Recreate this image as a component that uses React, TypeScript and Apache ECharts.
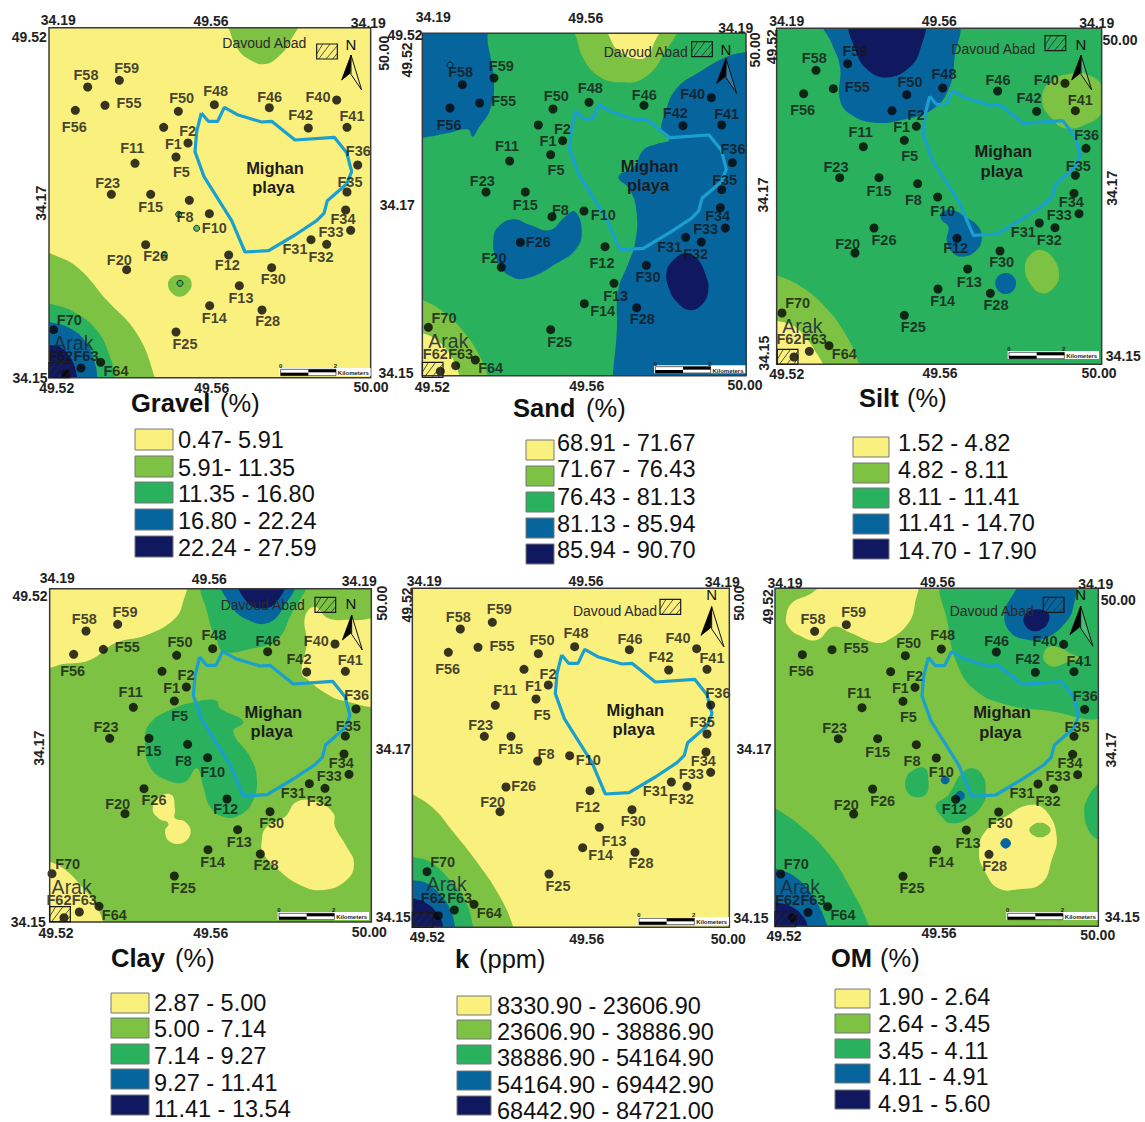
import React, { useEffect, useRef } from "react";
import * as echarts from "echarts";

const COLORS = ["#FAF07E", "#7DC242", "#2AB15D", "#07659E", "#10195F"];
const FONT = '"Liberation Sans", Arial, sans-serif';

type Pt = [number, number];
type Zone = { c: number; p: Pt[] };

// name, dot x, dot y, label x, label y (map units)
const sites: [string, number, number, number, number][] = [
  ["F58", 263, 261, 258, 224], ["F59", 358, 241, 380, 204], ["F55", 315, 316, 387, 310], ["F56", 226, 331, 223, 381],
  ["F50", 535, 334, 545, 295], ["F48", 643, 314, 647, 272], ["F46", 808, 323, 809, 291], ["F40", 1010, 300, 954, 290],
  ["F42", 925, 384, 902, 345], ["F41", 1041, 382, 1056, 349], ["F2", 491, 382, 563, 394], ["F1", 564, 429, 520, 431],
  ["F5", 528, 471, 544, 517], ["F11", 405, 490, 397, 445], ["F23", 334, 583, 323, 550], ["F15", 452, 583, 452, 622],
  ["F8", 568, 601, 555, 651], ["F10", 628, 641, 643, 684], ["F36", 1073, 495, 1075, 454], ["F35", 1041, 576, 1050, 547],
  ["F34", 1037, 630, 1029, 656], ["F33", 1052, 691, 993, 695], ["F32", 980, 733, 963, 770], ["F31", 933, 719, 885, 747],
  ["F30", 815, 803, 820, 837], ["F28", 786, 930, 803, 964], ["F13", 718, 857, 723, 895], ["F14", 629, 917, 643, 953],
  ["F12", 686, 765, 682, 794], ["F26", 437, 734, 467, 769], ["F20", 380, 809, 358, 781], ["F25", 528, 996, 555, 1032],
  ["F70", 161, 989, 208, 960], ["F64", 302, 1087, 348, 1112], ["F63", 243, 1104, 258, 1068], ["F62", 197, 1121, 182, 1068],
];

const sandSites: Record<string, number[]> = {
  F8: [516, 650, 541, 630], F10: [612, 633, 670, 646], F12: [675, 740, 666, 790],
  F14: [613, 911, 668, 932], F26: [421, 727, 475, 725],
};

const kSites: Record<string, number[]> = {
  F58: [241, 207, 235, 170], F59: [337, 187, 358, 148], F55: [294, 262, 366, 257], F56: [205, 277, 203, 327],
  F50: [475, 281, 486, 241], F48: [584, 260, 588, 218], F46: [748, 269, 750, 237], F40: [950, 266, 894, 235],
  F42: [866, 330, 843, 291], F41: [981, 328, 996, 295], F2: [432, 328, 504, 342], F1: [505, 375, 460, 378],
  F5: [468, 417, 486, 464], F11: [346, 436, 376, 391], F23: [313, 529, 302, 496], F15: [393, 529, 392, 568],
  F8: [473, 603, 498, 582], F10: [569, 587, 625, 599], F36: [992, 435, 1014, 400], F35: [981, 522, 967, 487],
  F34: [978, 576, 970, 603], F33: [992, 637, 934, 641], F32: [921, 679, 904, 716], F31: [874, 666, 826, 693],
  F30: [756, 749, 760, 783], F28: [765, 877, 783, 910], F13: [658, 802, 702, 842], F14: [608, 863, 662, 885],
  F12: [630, 692, 623, 742], F26: [378, 681, 431, 677], F20: [360, 755, 338, 727], F25: [507, 942, 534, 978],
  F70: [141, 935, 188, 907], F64: [282, 1033, 328, 1058], F63: [223, 1050, 239, 1015], F62: [175, 1067, 160, 1015],
};

const playa: Pt[] = [
  [604, 339], [625, 364], [653, 364], [673, 322], [712, 344], [745, 354], [785, 366], [815, 364], [885, 420],
  [1003, 412], [1040, 458], [1055, 515], [1040, 552], [982, 602], [972, 640], [950, 662], [885, 705], [806, 752],
  [735, 756], [695, 662], [612, 530], [585, 455], [590, 395], [604, 339],
];

const gravelZones: Zone[] = [
  { c: 1, p: [[680, 50], [690, 95], [715, 150], [755, 182], [795, 192], [835, 170], [870, 125], [895, 50]] },
  { c: 1, p: [[120, 745], [147, 758], [230, 800], [320, 900], [410, 1000], [465, 1135], [465, 1175], [120, 1175]] },
  { c: 2, p: [[120, 903], [147, 910], [220, 935], [290, 990], [330, 1070], [345, 1135], [345, 1175], [120, 1175]] },
  { c: 3, p: [[120, 958], [147, 965], [210, 985], [260, 1030], [285, 1090], [292, 1135], [292, 1175], [120, 1175]] },
  { c: 4, p: [[120, 1030], [147, 1035], [180, 1040], [215, 1080], [232, 1135], [232, 1175], [120, 1175]] },
  { c: 1, p: [[504, 852], [515, 832], [540, 825], [565, 832], [575, 852], [565, 876], [540, 890], [515, 878]] },
];

const sandZones: Zone[] = [
  { c: 3, p: [[100, 70], [305, 70], [325, 140], [342, 250], [330, 330], [295, 385], [278, 410], [263, 388], [200, 400], [130, 413], [100, 413]] },
  { c: 1, p: [[580, 70], [590, 115], [610, 175], [655, 228], [720, 247], [790, 235], [850, 165], [885, 70]] },
  { c: 0, p: [[685, 70], [695, 125], [720, 155], [760, 175], [800, 170], [822, 130], [840, 70]] },
  { c: 1, p: [[95, 890], [127, 900], [190, 935], [255, 1000], [305, 1080], [325, 1135], [325, 1160], [95, 1160]] },
  { c: 0, p: [[95, 995], [127, 1000], [170, 1020], [215, 1070], [240, 1135], [240, 1160], [95, 1160]] },
  { c: 3, p: [[1125, 150], [1098, 155], [1040, 170], [960, 215], [890, 265], [855, 340], [845, 395], [868, 420], [830, 432], [790, 450], [762, 500], [715, 530], [750, 570], [770, 640], [765, 730], [745, 790], [715, 870], [710, 1000], [698, 1135], [698, 1160], [1125, 1160]] },
  { c: 4, p: [[860, 815], [880, 780], [915, 760], [950, 775], [975, 820], [985, 870], [965, 915], [930, 930], [890, 905], [865, 860]] },
  { c: 3, p: [[340, 720], [355, 680], [400, 658], [450, 675], [510, 690], [555, 650], [585, 635], [605, 690], [590, 745], [530, 790], [440, 835], [385, 825], [350, 780]] },
];

const siltZones: Zone[] = [
  { c: 3, p: [[235, 60], [260, 130], [285, 200], [285, 300], [320, 345], [390, 368], [470, 360], [560, 330], [610, 270], [628, 180], [628, 60]] },
  { c: 4, p: [[322, 60], [335, 160], [375, 215], [430, 232], [490, 205], [525, 150], [530, 60]] },
  { c: 1, p: [[892, 305], [910, 250], [970, 222], [1030, 225], [1075, 265], [1075, 330], [1030, 370], [960, 385], [920, 355]] },
  { c: 3, p: [[588, 640], [620, 630], [660, 650], [700, 680], [710, 720], [690, 755], [650, 770], [620, 755], [605, 720], [610, 680], [590, 660]] },
  { c: 3, p: [[751, 850], [760, 828], [782, 819], [804, 828], [813, 850], [804, 872], [782, 882], [760, 872]] },
  { c: 1, p: [[840, 800], [860, 760], [890, 750], [925, 775], [942, 825], [925, 865], [890, 880], [855, 850]] },
  { c: 1, p: [[70, 815], [95, 825], [160, 855], [230, 910], [300, 1000], [345, 1100], [345, 1125], [70, 1125]] },
  { c: 0, p: [[70, 955], [95, 962], [140, 975], [180, 1010], [215, 1060], [236, 1100], [236, 1125], [70, 1125]] },
];

const clayZones: Zone[] = [
  { c: 0, p: [[120, 60], [550, 60], [548, 130], [520, 180], [440, 225], [345, 250], [270, 300], [190, 312], [120, 318]] },
  { c: 2, p: [[615, 60], [625, 170], [650, 240], [672, 275], [760, 265], [830, 240], [870, 170], [910, 60]] },
  { c: 3, p: [[668, 60], [695, 140], [745, 180], [800, 190], [845, 150], [880, 60]] },
  { c: 4, p: [[718, 60], [740, 125], [785, 145], [830, 125], [852, 60]] },
  { c: 0, p: [[915, 170], [945, 140], [985, 175], [1060, 180], [1140, 190], [1140, 425], [1030, 422], [970, 395], [925, 360], [905, 340], [920, 250]] },
  { c: 2, p: [[435, 540], [450, 490], [510, 450], [590, 425], [650, 422], [660, 445], [730, 485], [700, 515], [750, 590], [770, 650], [760, 720], [720, 765], [670, 770], [630, 740], [610, 680], [590, 625], [555, 665], [500, 660], [450, 620]] },
  { c: 0, p: [[458, 745], [480, 710], [515, 705], [525, 750], [525, 775], [555, 785], [572, 815], [550, 848], [510, 845], [495, 815], [505, 790], [475, 775]] },
  { c: 0, p: [[785, 845], [800, 800], [855, 770], [890, 725], [950, 725], [1000, 760], [1005, 800], [1040, 860], [1062, 910], [1040, 960], [970, 990], [900, 975], [830, 925], [790, 880]] },
  { c: 0, p: [[120, 900], [149, 905], [190, 925], [250, 985], [290, 1040], [312, 1095], [312, 1120], [120, 1120]] },
];

const kZones: Zone[] = [
  { c: 1, p: [[70, 690], [97, 702], [160, 745], [215, 810], [290, 905], [360, 1010], [400, 1102], [400, 1130], [70, 1130]] },
  { c: 2, p: [[70, 882], [98, 890], [150, 905], [210, 960], [255, 1020], [280, 1102], [280, 1130], [70, 1130]] },
  { c: 3, p: [[70, 955], [98, 960], [140, 970], [190, 1015], [215, 1060], [225, 1102], [225, 1130], [70, 1130]] },
  { c: 4, p: [[70, 1010], [98, 1015], [140, 1030], [175, 1065], [190, 1102], [190, 1130], [70, 1130]] },
];

const omZones: Zone[] = [
  { c: 0, p: [[123, 175], [140, 130], [190, 105], [255, 70], [510, 70], [510, 130], [490, 190], [430, 240], [390, 248], [320, 220], [265, 200], [215, 240], [160, 225], [130, 200]] },
  { c: 2, p: [[605, 60], [610, 200], [640, 320], [690, 390], [770, 430], [890, 450], [1085, 452], [1085, 60]] },
  { c: 1, p: [[895, 285], [912, 260], [950, 265], [975, 280], [1005, 295], [960, 310], [925, 320], [900, 305]] },
  { c: 3, p: [[778, 165], [800, 110], [840, 70], [985, 70], [985, 140], [960, 190], [900, 235], [840, 238], [795, 215]] },
  { c: 4, p: [[837, 170], [860, 150], [905, 155], [912, 180], [890, 208], [860, 212], [840, 195]] },
  { c: 2, p: [[1085, 655], [1060, 670], [1025, 720], [1018, 760], [1030, 810], [1060, 840], [1085, 850]] },
  { c: 2, p: [[482, 660], [505, 630], [540, 625], [550, 660], [545, 700], [520, 712], [490, 700]] },
  { c: 2, p: [[573, 735], [610, 705], [650, 640], [685, 625], [715, 650], [722, 690], [715, 730], [670, 775], [620, 790], [590, 770]] },
  { c: 3, p: [[587, 660], [600, 647], [614, 660], [600, 673]] },
  { c: 3, p: [[630, 707], [645, 692], [660, 707], [645, 722]] },
  { c: 0, p: [[702, 880], [720, 815], [790, 765], [855, 735], [905, 755], [935, 830], [920, 900], [890, 970], [820, 988], [760, 985], [720, 935]] },
  { c: 1, p: [[853, 810], [865, 794], [885, 788], [905, 794], [917, 810], [905, 826], [885, 832], [865, 826]] },
  { c: 3, p: [[766, 850], [782, 834], [798, 850], [782, 866]] },
  { c: 2, p: [[65, 735], [90, 745], [170, 800], [250, 880], [320, 990], [375, 1105], [375, 1130], [65, 1130]] },
  { c: 3, p: [[65, 915], [90, 925], [150, 950], [205, 1010], [250, 1105], [250, 1130], [65, 1130]] },
  { c: 4, p: [[65, 1020], [90, 1025], [140, 1040], [175, 1070], [190, 1105], [190, 1130], [65, 1130]] },
];

type Tick = [string, number, number, number];

const gravelTicks: Tick[] = [
  ["34.19", 175, 60, 0], ["49.56", 633, 62, 0], ["34.19", 1105, 68, 0], ["49.52", 88, 110, 0], ["50.00", 1152, 160, 90],
  ["34.17", 122, 610, 90], ["34.15", 90, 1133, 0], ["49.52", 170, 1165, 0], ["49.56", 635, 1165, 0], ["50.00", 1113, 1162, 0],
];
const sandTicks: Tick[] = [
  ["34.19", 160, 52, 0], ["49.56", 617, 55, 0], ["34.19", 1067, 85, 0], ["49.52", 75, 105, 0], ["49.52", 82, 180, 90],
  ["50.00", 1125, 150, 90], ["34.17", 52, 615, 0], ["34.17", 1150, 585, 90], ["34.15", 48, 1118, 0], ["34.15", 1152, 1060, 90],
  ["49.52", 157, 1160, 0], ["49.56", 620, 1158, 0], ["50.00", 1095, 1155, 0],
];
const siltTicks: Tick[] = [
  ["34.19", 125, 62, 0], ["49.56", 583, 62, 0], ["34.19", 1055, 68, 0], ["49.52", 80, 140, 90], ["50.00", 1125, 120, 0],
  ["34.17", 1100, 565, 90], ["34.15", 1135, 1068, 0], ["49.52", 125, 1122, 0], ["49.56", 585, 1118, 0], ["50.00", 1062, 1120, 0],
];
const clayTicks: Tick[] = [
  ["34.19", 172, 55, 0], ["49.56", 628, 58, 0], ["34.19", 1078, 62, 0], ["49.52", 90, 108, 0], ["50.00", 1145, 130, 90],
  ["34.17", 118, 565, 90], ["34.15", 85, 1085, 0], ["49.52", 168, 1118, 0], ["49.56", 632, 1118, 0], ["50.00", 1108, 1115, 0],
];
const kTicks: Tick[] = [
  ["34.19", 133, 62, 0], ["49.56", 618, 62, 0], ["34.19", 1027, 65, 0], ["49.52", 80, 135, 90], ["50.00", 1078, 130, 90],
  ["34.17", 40, 567, 0], ["34.17", 1122, 568, 0], ["34.15", 40, 1072, 0], ["34.15", 1113, 1075, 0],
  ["49.52", 142, 1130, 0], ["49.56", 620, 1138, 0], ["50.00", 1045, 1138, 0],
];
const omTicks: Tick[] = [
  ["34.19", 120, 68, 0], ["49.56", 578, 65, 0], ["34.19", 1052, 72, 0], ["49.52", 70, 140, 90], ["50.00", 1120, 120, 0],
  ["34.17", 1098, 570, 90], ["34.15", 1132, 1070, 0], ["49.52", 117, 1128, 0], ["49.56", 582, 1120, 0], ["50.00", 1058, 1125, 0],
];

const gravelLegend = ["0.47- 5.91", "5.91- 11.35", "11.35 - 16.80", "16.80 - 22.24", "22.24 - 27.59"];
const sandLegend = ["68.91 - 71.67", "71.67 - 76.43", "76.43 - 81.13", "81.13 - 85.94", "85.94 - 90.70"];
const siltLegend = ["1.52 - 4.82", "4.82 - 8.11", "8.11 - 11.41", "11.41 - 14.70", "14.70 - 17.90"];
const clayLegend = ["2.87 - 5.00", "5.00 - 7.14", "7.14 - 9.27", "9.27 - 11.41", "11.41 - 13.54"];
const kLegend = ["8330.90 - 23606.90", "23606.90 - 38886.90", "38886.90 - 54164.90", "54164.90 - 69442.90", "68442.90 - 84721.00"];
const omLegend = ["1.90 - 2.64", "2.64 - 3.45", "3.45 - 4.11", "4.11 - 4.91", "4.91 - 5.60"];

const panels: any[] = [
  {
    crop: [0, 0], frame: [147, 1112, 83, 1133], base: 0, shift: [0, 0], zones: gravelZones, ticks: gravelTicks,
    davoud: [793, 130], box: [950, 132], north: [1053, 165, 1053, 133, 1], arak: [220, 1030], arakBox: [147, 1088], scale: [842, 1108],
    extras: [[536, 643, 2], [590, 685, 2], [493, 765, 2], [540, 850, 2]],
    title: ["Gravel", 131, " (%)", 220, 403],
    legend: gravelLegend, swatch: [135, 173, [429, 456, 482, 509, 536], 21], textX: 178, textY: [440, 468, 494, 521, 548],
  },
  {
    crop: [380, 0], frame: [127, 1098, 100, 1127], base: 2, shift: [-16, -7], zones: sandZones, ticks: sandTicks, over: sandSites,
    davoud: [797, 155], box: [935, 125], north: [1038, 175, 1038, 148, 1], arak: [205, 1022], arakBox: [127, 1087], scale: [826, 1100],
    extras: [[210, 195, 3]],
    title: ["Sand", 513, " (%)", 586, 408],
    legend: sandLegend, swatch: [526, 554, [440, 466, 492, 518, 544], 20], textX: 557, textY: [443, 469, 497, 524, 550],
  },
  {
    crop: [745, 0], frame: [95, 1070, 85, 1093], base: 2, shift: [-50, -50], zones: siltZones, ticks: siltTicks,
    davoud: [745, 148], box: [900, 107], north: [1008, 165, 1008, 132, 1], arak: [172, 978], arakBox: [97, 1048], scale: [792, 1057],
    extras: [],
    title: ["Silt", 859, " (%)", 907, 398],
    legend: siltLegend, swatch: [853, 889, [437, 463, 488, 514, 539], 20], textX: 898, textY: [443, 470, 497, 523, 551],
  },
  {
    crop: [0, 560], frame: [149, 1114, 86, 1086], base: 1, shift: [-5, -48], zones: clayZones, ticks: clayTicks,
    davoud: [788, 135], box: [945, 112], north: [1055, 165, 1053, 130, 1], arak: [215, 980], arakBox: [149, 1040], scale: [837, 1060],
    extras: [],
    title: ["Clay", 111, " (%)", 175, 958],
    legend: clayLegend, swatch: [111, 149, [993, 1018, 1044, 1069, 1095], 20], textX: 154, textY: [1003, 1029, 1056, 1083, 1109],
  },
  {
    crop: [380, 560], frame: [97, 1048, 85, 1102], base: 0, shift: [-59, -54], zones: kZones, ticks: kTicks, over: kSites,
    davoud: [705, 152], box: [840, 118], north: [995, 140, 995, 102, 1.15], arak: [200, 973], arakBox: [97, 1057], scale: [777, 1075],
    extras: [[1050, 763, 4]],
    title: ["k", 455, " (ppm)", 479, 959],
    legend: kLegend, swatch: [457, 491, [996, 1020, 1045, 1071, 1096], 19], textX: 497, textY: [1006, 1032, 1058, 1085, 1111],
  },
  {
    crop: [745, 560], frame: [90, 1060, 85, 1099], base: 1, shift: [-54, -47], zones: omZones, ticks: omTicks,
    davoud: [740, 152], box: [895, 112], north: [1007, 138, 1007, 102, 1.15], arak: [165, 980], arakBox: [90, 1055], scale: [788, 1060],
    extras: [],
    title: ["OM", 831, " (%)", 880, 958],
    legend: omLegend, swatch: [835, 870, [989, 1014, 1039, 1064, 1090], 19], textX: 878, textY: [997, 1024, 1051, 1077, 1104],
  },
];

const arrowBlack: Pt[] = [[0, 0], [-28, 75], [-3, 55]];
const arrowWhite: Pt[] = [[0, 0], [0, 58], [32, 105]];

function buildOption() {
  const grid: any[] = [], xAxis: any[] = [], yAxis: any[] = [], series: any[] = [], graphic: any[] = [];

  const text = (t: string, x: number, y: number, font: string, extra: any = {}, rot = 0) => ({
    type: "text", x, y, rotation: (rot * Math.PI) / 180, z: 20, silent: true,
    style: { text: t, font, fill: extra.fill || "#1c1c1c", align: extra.align || "center", verticalAlign: "middle", opacity: extra.opacity ?? 1 },
  });

  panels.forEach((pn, i) => {
    const [cx, cy] = pn.crop;
    const [L, R, T, B] = pn.frame;
    const X = (v: number) => cx + v / 3;
    const Y = (v: number) => cy + v / 3;

    grid.push({ left: X(L), top: Y(T), width: (R - L) / 3, height: (B - T) / 3, show: true, backgroundColor: COLORS[pn.base], borderWidth: 0, containLabel: false });
    xAxis.push({ gridIndex: i, type: "value", min: L, max: R, show: false });
    yAxis.push({ gridIndex: i, type: "value", min: T, max: B, inverse: true, show: false });

    const zones: Zone[] = pn.zones;
    series.push({
      type: "custom", xAxisIndex: i, yAxisIndex: i, clip: true, z: 2, silent: true,
      data: zones.map((z, k) => [z.p[0][0], z.p[0][1], k]),
      encode: { x: 0, y: 1 },
      renderItem: (params: any, api: any) => {
        const zone = zones[params.dataIndex];
        return {
          type: "polygon",
          shape: { points: zone.p.map((q) => api.coord(q)), smooth: 0.45 },
          style: { fill: COLORS[zone.c] },
        };
      },
    });

    const [sx, sy] = pn.shift;
    series.push({
      type: "line", xAxisIndex: i, yAxisIndex: i, z: 3, silent: true, showSymbol: false, symbol: "none",
      data: playa.map(([a, b]) => [a + sx, b + sy]),
      lineStyle: { color: "#1A9FCF", width: 3.2 },
    });

    const resolved = sites.map(([n, a, b, c, d]) => {
      const o = pn.over && pn.over[n];
      return o ? { n, dot: [o[0], o[1]], lab: [o[2], o[3]] } : { n, dot: [a + sx, b + sy], lab: [c + sx, d + sy] };
    });

    series.push({
      type: "scatter", xAxisIndex: i, yAxisIndex: i, z: 4, silent: true, symbolSize: 9,
      itemStyle: { color: "#050505" },
      data: resolved.map((s) => s.dot),
    });
    if (pn.extras.length) {
      series.push({
        type: "scatter", xAxisIndex: i, yAxisIndex: i, z: 4, silent: true, symbolSize: 6,
        data: pn.extras.map(([a, b, c]: number[]) => ({
          value: [a, b], itemStyle: { color: COLORS[c], borderColor: "#050505", borderWidth: 1 },
        })),
      });
    }
    series.push({
      type: "scatter", xAxisIndex: i, yAxisIndex: i, z: 5, silent: true, symbolSize: 1,
      itemStyle: { color: "transparent" },
      data: resolved.map((s) => ({ name: s.n, value: s.lab })),
      label: {
        show: true, position: "inside", formatter: "{b}", color: "#151515",
        fontFamily: FONT, fontWeight: "bold", fontSize: 14.5,
      },
      labelLayout: { hideOverlap: false },
    });

    // frame
    graphic.push({
      type: "rect", z: 8, silent: true,
      shape: { x: X(L), y: Y(T), width: (R - L) / 3, height: (B - T) / 3 },
      style: { fill: "none", stroke: "#3a3a3a", lineWidth: 1.5 },
    });

    // playa name
    graphic.push(text("Mighan", X(825 + sx), Y(504 + sy), `bold 16.5px ${FONT}`));
    graphic.push(text("playa", X(820 + sx), Y(562 + sy), `bold 16.5px ${FONT}`));

    // place names
    graphic.push(text("Davoud Abad", X(pn.davoud[0]), Y(pn.davoud[1]), `14px ${FONT}`, { fill: "#2a2a2a" }));
    graphic.push(text("Arak", X(pn.arak[0]), Y(pn.arak[1]), `19.5px ${FONT}`, { fill: "#1d2b38", opacity: 0.9 }));

    const hatch = (bx: number, by: number) => {
      const w = 62, h = 45;
      graphic.push({
        type: "rect", z: 9, silent: true,
        shape: { x: X(bx), y: Y(by), width: w / 3, height: h / 3 },
        style: { fill: "none", stroke: "#1a1a1a", lineWidth: 1.2 },
      });
      [[0, 30, 18, 0], [6, 45, 40, 0], [28, 45, 62, 5], [48, 45, 62, 28]].forEach(([a, b, c, d]) => {
        graphic.push({
          type: "line", z: 9, silent: true,
          shape: { x1: X(bx + a), y1: Y(by + b), x2: X(bx + c), y2: Y(by + d) },
          style: { stroke: "#2a2a2a", lineWidth: 0.8 },
        });
      });
    };
    hatch(pn.box[0], pn.box[1]);
    hatch(pn.arakBox[0], pn.arakBox[1]);

    // north arrow
    const [nx, ny, tx, ty, ns] = pn.north;
    const pts = (list: Pt[]) => list.map(([a, b]) => [X(nx + a * ns), Y(ny + b * ns)]);
    graphic.push({ type: "polygon", z: 9, silent: true, shape: { points: pts(arrowWhite) }, style: { fill: "#ffffff", fillOpacity: 0.15, stroke: "#111", lineWidth: 1 } });
    graphic.push({ type: "polygon", z: 9, silent: true, shape: { points: pts(arrowBlack) }, style: { fill: "#000", stroke: "#000", lineWidth: 0.8 } });
    graphic.push(text("N", X(tx), Y(ty), `15px ${FONT}`, { fill: "#111" }));

    // scale bar
    const [bx, by] = pn.scale;
    graphic.push({ type: "rect", z: 9, silent: true, shape: { x: X(bx - 4), y: Y(by - 4), width: 274 / 3, height: 24 / 3 }, style: { fill: "#fff" } });
    graphic.push({ type: "rect", z: 9, silent: true, shape: { x: X(bx), y: Y(by + 10), width: 83 / 3, height: 9 / 3 }, style: { fill: "#000" } });
    graphic.push({ type: "rect", z: 9, silent: true, shape: { x: X(bx + 83), y: Y(by), width: 83 / 3, height: 9 / 3 }, style: { fill: "#000" } });
    graphic.push({ type: "rect", z: 9, silent: true, shape: { x: X(bx), y: Y(by), width: 166 / 3, height: 19 / 3 }, style: { fill: "none", stroke: "#000", lineWidth: 0.6 } });
    graphic.push(text("0", X(bx), Y(by - 9), `bold 6px ${FONT}`));
    graphic.push(text("2", X(bx + 164), Y(by - 9), `bold 6px ${FONT}`));
    graphic.push(text("Kilometers", X(bx + 218), Y(by + 12), `bold 6px ${FONT}`));

    // coordinate labels
    pn.ticks.forEach(([t, a, b, r]: Tick) => {
      graphic.push(text(t, X(a), Y(b), `bold 14px ${FONT}`, { fill: "#222" }, r));
    });

    // title
    const [bold, bx2, reg, rx, ty2] = pn.title;
    graphic.push(text(bold, bx2, ty2, `bold 25.5px ${FONT}`, { align: "left", fill: "#111" }));
    graphic.push(text(reg.trim(), rx, ty2, `25.5px ${FONT}`, { align: "left", fill: "#111" }));

    // legend
    const [s0, s1, sy0, sh] = pn.swatch;
    pn.legend.forEach((t: string, k: number) => {
      graphic.push({
        type: "rect", z: 9, silent: true,
        shape: { x: s0, y: sy0[k], width: s1 - s0, height: sh },
        style: { fill: COLORS[k], stroke: "#777", lineWidth: 1 },
      });
      graphic.push(text(t, pn.textX, pn.textY[k], `23.5px ${FONT}`, { align: "left", fill: "#111" }));
    });
  });

  return { animation: false, backgroundColor: "#fff", grid, xAxis, yAxis, series, graphic: { elements: graphic } };
}

export default function App() {
  const ref = useRef<HTMLDivElement>(null);
  useEffect(() => {
    const chart = echarts.init(ref.current!, undefined, { renderer: "svg" });
    chart.setOption(buildOption() as any);
    return () => chart.dispose();
  }, []);
  return <div ref={ref} style={{ position: "absolute", left: 0, top: 0, width: 1145, height: 1122 }} />;
}
